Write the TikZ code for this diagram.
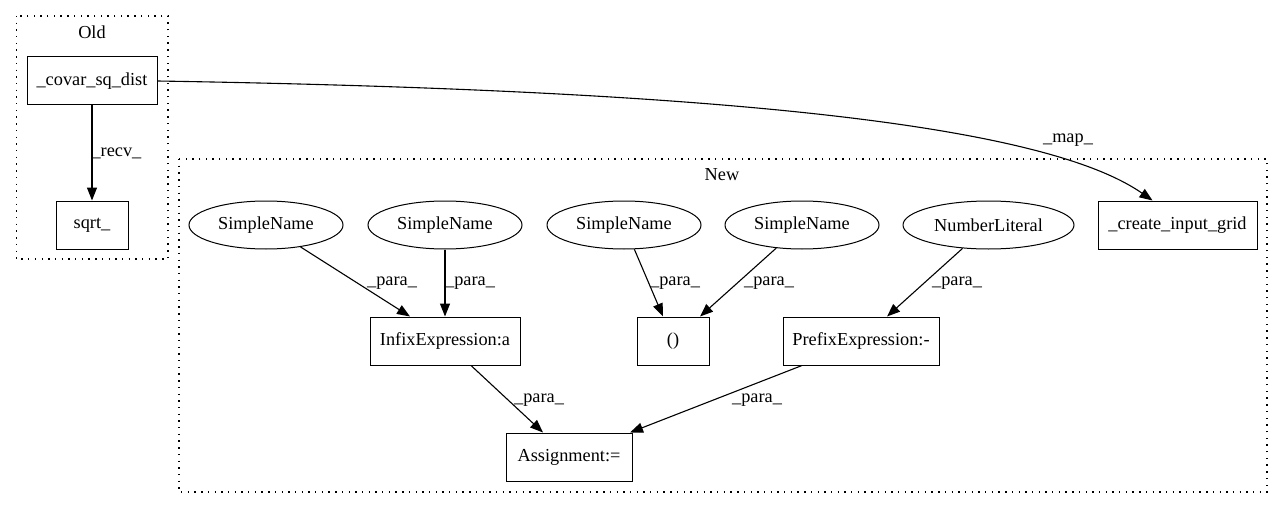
\documentclass[tikz,border=0pt]{standalone}
\usepackage{fontspec}
\setmainfont{Liberation Serif}
\usetikzlibrary{shapes.geometric,arrows.meta}
\begin{document}
\begin{tikzpicture}[x=1pt,y=-1pt,
  every node/.style={font=\fontsize{18.3}{21}\selectfont, inner sep=0pt},
  box/.style={draw, line width=1pt, rectangle, minimum height=48pt},
  ell/.style={draw, line width=1pt, ellipse, minimum width=154pt, minimum height=48pt},
  cluster/.style={line width=1.4pt, dash pattern=on 1.4pt off 5.3pt},
  edge/.style={line width=1.1pt, -{Triangle[length=13pt,width=10pt]}}]
\useasboundingbox (0,0) rectangle (1284,508);
% clusters
\draw[cluster] (16.5,16) rectangle (168,259);
\node (oldlbl) at (92,32) {Old};
\draw[cluster] (179,159) rectangle (1267,492);
\node (newlbl) at (722,175) {New};
% Old nodes
\node[box, minimum width=130pt] (covar) at (92,81) {\_covar\_sq\_dist};
\node[box, minimum width=72pt] (sqrt) at (92,225) {sqrt\_};
% New nodes
\node[ell] (s1) at (266,225) {SimpleName};
\node[ell] (s2) at (445,225) {SimpleName};
\node[ell] (s3) at (624,225) {SimpleName};
\node[ell] (s4) at (802,225) {SimpleName};
\node[ell, minimum width=171pt] (nl) at (988.5,225) {NumberLiteral};
\node[box, minimum width=159pt] (create) at (1177.5,225) {\_create\_input\_grid};
\node[box, minimum width=150pt] (infix) at (445,341) {InfixExpression:a};
\node[box, minimum width=72pt] (paren) at (673,341) {()};
\node[box, minimum width=156pt] (prefix) at (861,341) {PrefixExpression:-};
\node[box, minimum width=126pt] (assign) at (569,457) {Assignment:=};
% edges
\draw[edge] (covar) -- (sqrt) node[pos=0.5, anchor=west, xshift=-1pt] (l0) {\_recv\_};
\draw[edge] (covar.east) .. controls (700,90) and (1040,122) .. ([xshift=-25pt]create.north);
\node (lmap) at (1068,140) {\_map\_};
\draw[edge] (s1) -- ([xshift=-35pt]infix.north);
\node (l1) at (392,283) {\_para\_};
\draw[edge] (s2) -- (infix);
\node (l2) at (470,283) {\_para\_};
\draw[edge] (s3) -- ([xshift=-10pt]paren.north);
\node (l3) at (675,283) {\_para\_};
\draw[edge] (s4) -- ([xshift=27pt]paren.north);
\node (l4) at (769,283) {\_para\_};
\draw[edge] (nl) -- ([xshift=26pt]prefix.north);
\node (l5) at (957,283) {\_para\_};
\draw[edge] ([xshift=26pt]infix.south) -- ([xshift=-26pt]assign.north);
\node (l6) at (539,400) {\_para\_};
\draw[edge] ([xshift=-59pt]prefix.south) -- ([xshift=61pt]assign.north);
\node (l7) at (757,400) {\_para\_};
\end{tikzpicture}
\end{document}
